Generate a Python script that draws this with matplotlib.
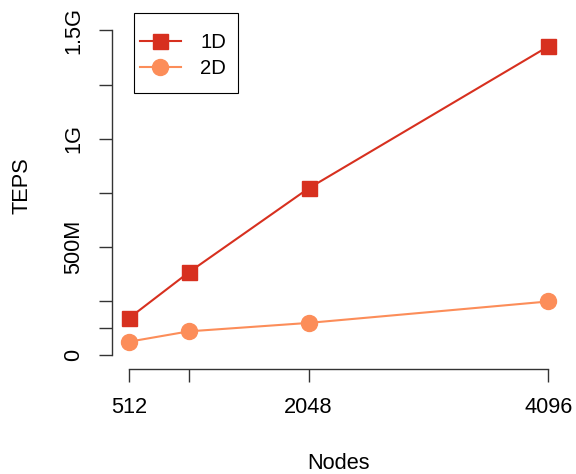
import matplotlib
matplotlib.use("Agg")
import matplotlib.pyplot as plt
from matplotlib.lines import Line2D
from matplotlib.patches import Rectangle
from matplotlib.ticker import FixedLocator, FixedFormatter

plt.rcParams['font.family'] = ['Liberation Sans', 'DejaVu Sans']

nodes = [512, 1024, 2048, 4096]
node_labels = ["512", "", "2048", "4096"]
teps_1d = [0.171e9, 0.383e9, 0.771e9, 1.426e9]
teps_2d = [0.063e9, 0.111e9, 0.150e9, 0.249e9]
y_ticks = [0, 0.125e9, 0.25e9, 0.5e9, 0.75e9, 1.0e9, 1.25e9, 1.5e9]
y_labels = ["0", "", "", "500M", "", "1G", "", "1.5G"]
series_names = ["1D", "2D"]

c1d = "#D7301F"
c2d = "#FC8D59"
style_1d = dict(color=c1d, lw=1.5, marker='s', markersize=10.8)
style_2d = dict(color=c2d, lw=1.5, marker='o', markersize=11.5)
fs = 15.7
axis_col = '#333333'

W, H = 576, 474
fig = plt.figure(figsize=(W / 100, H / 100), dpi=100)


def fx(px):
    return px / W


def fy(py):
    return 1 - py / H


ax = fig.add_axes([fx(112), fy(369), fx(565) - fx(112), fy(2) - fy(369)])

ax.plot(nodes, teps_1d, label=series_names[0], **style_1d)
ax.plot(nodes, teps_2d, label=series_names[1], **style_2d)

xr = nodes[-1] - nodes[0]
ax.set_xlim(nodes[0] - 0.04 * xr, nodes[-1] + 0.04 * xr)
y_top = max(teps_1d) * 1.1
ax.set_ylim(-0.04 * y_top, 1.04 * y_top)

for s in ['top', 'right']:
    ax.spines[s].set_visible(False)
ax.spines['left'].set_bounds(y_ticks[0], y_ticks[-1])
ax.spines['bottom'].set_bounds(nodes[0], nodes[-1])
for s in ['left', 'bottom']:
    ax.spines[s].set_color(axis_col)
    ax.spines[s].set_linewidth(1.0)

ax.xaxis.set_major_locator(FixedLocator(nodes))
ax.xaxis.set_major_formatter(FixedFormatter(node_labels))
ax.yaxis.set_major_locator(FixedLocator(y_ticks))
ax.yaxis.set_major_formatter(FixedFormatter(y_labels))
ax.tick_params(axis='both', direction='out', length=9.7, width=1.0, color=axis_col,
               labelsize=fs)
ax.tick_params(axis='x', pad=10.8)
ax.tick_params(axis='y', pad=10.4)
for lab in ax.get_yticklabels():
    lab.set_rotation(90)
    lab.set_va('center')

ax.set_xlabel("Nodes", fontsize=fs, labelpad=25)
ax.set_ylabel("TEPS", fontsize=fs, labelpad=21.8)

# legend box in the upper left
fig.add_artist(Rectangle((fx(134), fy(93)), fx(238) - fx(134), fy(13) - fy(93),
                         transform=fig.transFigure, fill=True, facecolor='white',
                         edgecolor='black', lw=0.8, zorder=5))
for name, st, cy in [(series_names[0], style_1d, 41), (series_names[1], style_2d, 67)]:
    fig.add_artist(Line2D([fx(140), fx(181)], [fy(cy), fy(cy)], color=st['color'],
                          lw=st['lw'], transform=fig.transFigure, zorder=6))
    fig.add_artist(Line2D([fx(160)], [fy(cy)], color=st['color'], marker=st['marker'],
                          markersize=st['markersize'], lw=0,
                          transform=fig.transFigure, zorder=7))
    fig.text(fx(200), fy(cy + 7), name, fontsize=14.6, ha='left', va='baseline',
             zorder=8)

fig.savefig("out.png", dpi=100)
